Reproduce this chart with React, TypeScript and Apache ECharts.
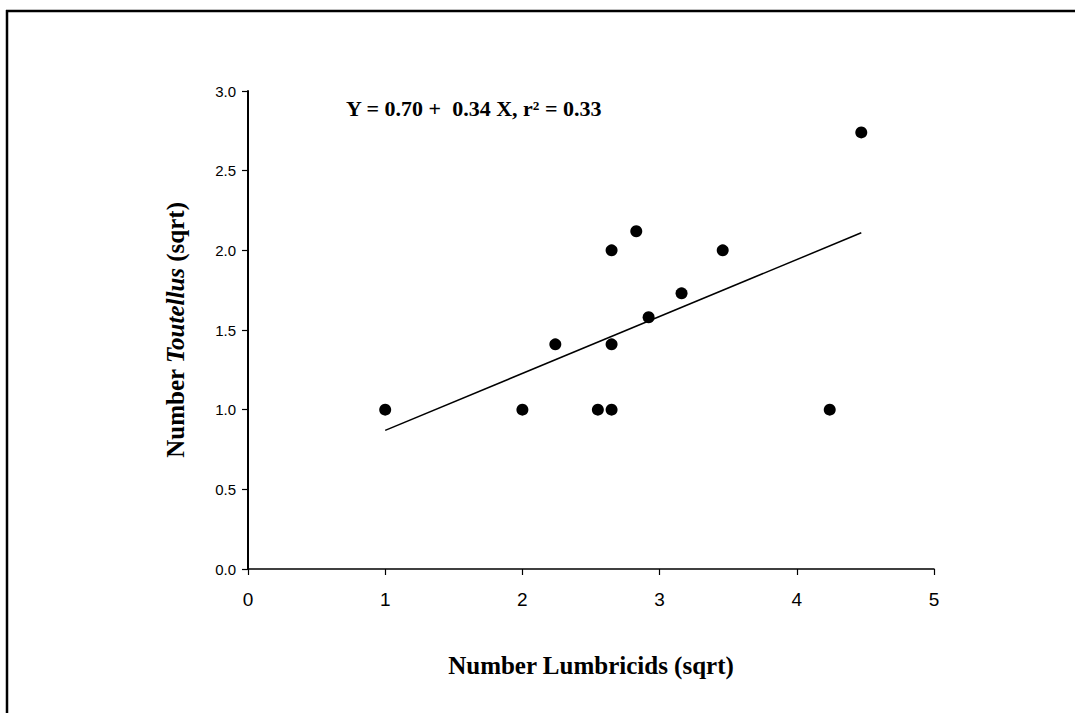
import React, { useEffect, useRef } from "react";
import * as echarts from "echarts";

// Scatter observations (sqrt-transformed counts)
const lumbricids = [1.0, 2.0, 2.55, 2.65, 4.24, 2.24, 2.65, 2.92, 3.16, 2.65, 2.83, 3.46, 4.47];
const toutellus = [1.0, 1.0, 1.0, 1.0, 1.0, 1.41, 1.41, 1.58, 1.73, 2.0, 2.12, 2.0, 2.74];

// Fitted regression line as drawn
const fitX = [1.0, 4.47];
const fitY = [0.87, 2.11];

const equationText = "Y = 0.70 +  0.34 X, r² = 0.33";
const xTitle = "Number Lumbricids (sqrt)";

export default function App() {
  const ref = useRef<HTMLDivElement>(null);

  useEffect(() => {
    if (!ref.current) return;
    const chart = echarts.init(ref.current, null, { renderer: "svg" });
    const serif = '"Liberation Serif", "Times New Roman", serif';
    const sans = '"Liberation Sans", Arial, sans-serif';
    chart.setOption({
      animation: false,
      backgroundColor: "#ffffff",
      grid: { left: 248, right: 141, top: 91, bottom: 144, containLabel: false },
      xAxis: {
        type: "value",
        min: 0,
        max: 5,
        interval: 1,
        name: xTitle,
        nameLocation: "middle",
        nameGap: 84,
        nameTextStyle: { fontFamily: serif, fontWeight: "bold", fontSize: 25, color: "#000" },
        axisLine: { lineStyle: { color: "#000", width: 1.5 } },
        axisTick: { show: true, inside: false, length: 6, lineStyle: { color: "#000", width: 1.2 } },
        axisLabel: { fontFamily: sans, fontSize: 19, color: "#000", margin: 21 },
        splitLine: { show: false },
      },
      yAxis: {
        type: "value",
        min: 0,
        max: 3,
        interval: 0.5,
        name: "{a|Number }{b|Toutellus}{a| (sqrt)}",
        nameLocation: "middle",
        nameRotate: 90,
        nameGap: 60,
        nameTextStyle: {
          rich: {
            a: { fontFamily: serif, fontWeight: "bold", fontSize: 25, color: "#000" },
            b: { fontFamily: serif, fontWeight: "bold", fontStyle: "italic", fontSize: 25, color: "#000" },
          },
        },
        axisLine: { lineStyle: { color: "#000", width: 2 } },
        axisTick: { show: true, inside: false, length: 6, lineStyle: { color: "#000", width: 1.2 } },
        axisLabel: {
          fontFamily: sans,
          fontSize: 15,
          color: "#000",
          margin: 12,
          formatter: (v: number) => v.toFixed(1),
        },
        splitLine: { show: false },
      },
      series: [
        {
          type: "line",
          data: fitX.map((x, i) => [x, fitY[i]]),
          showSymbol: false,
          symbol: "none",
          lineStyle: { color: "#000", width: 1.5 },
          z: 2,
        },
        {
          type: "scatter",
          data: lumbricids.map((x, i) => [x, toutellus[i]]),
          symbol: "circle",
          symbolSize: 12,
          itemStyle: { color: "#000", opacity: 1 },
          z: 3,
        },
      ],
      graphic: [
        {
          type: "line",
          shape: { x1: 6, y1: 11, x2: 1075, y2: 11 },
          style: { stroke: "#000", lineWidth: 2.5 },
        },
        {
          type: "line",
          shape: { x1: 7, y1: 10, x2: 7, y2: 713 },
          style: { stroke: "#000", lineWidth: 2.5 },
        },
        {
          type: "text",
          left: 346,
          top: 97,
          style: {
            text: equationText,
            fontFamily: serif,
            fontWeight: "bold",
            fontSize: 22,
            fill: "#000",
          },
        },
      ],
    });
    return () => chart.dispose();
  }, []);

  return (
    <div
      ref={ref}
      style={{ position: "fixed", left: 0, top: 0, width: 1075, height: 713, background: "#fff" }}
    />
  );
}
